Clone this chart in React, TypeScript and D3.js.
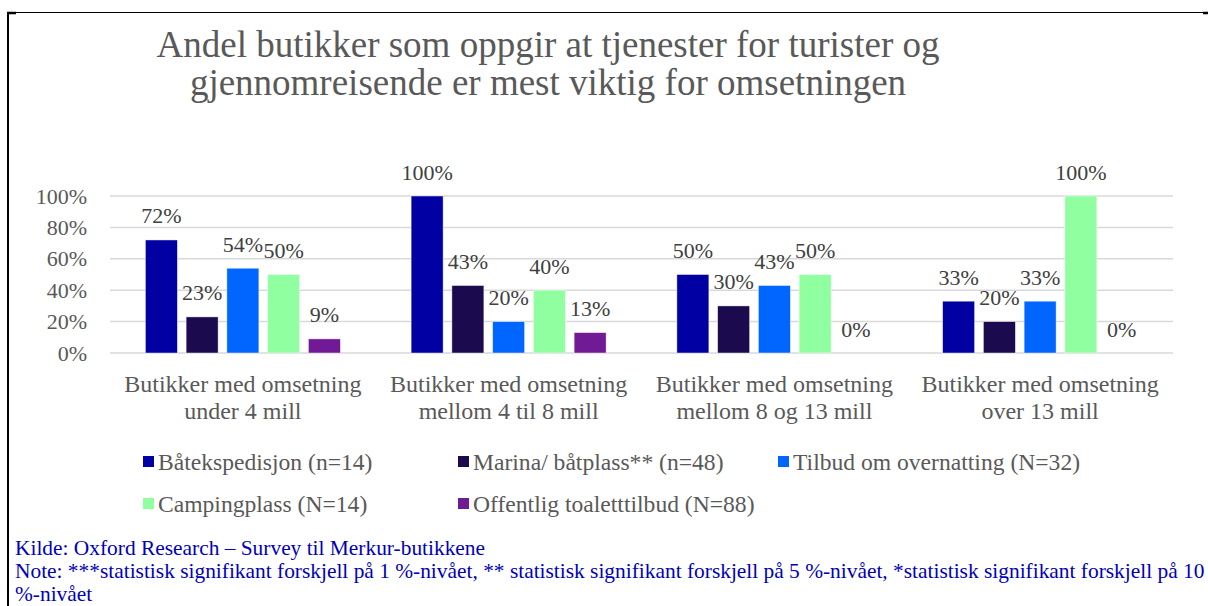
import React from "react";
import * as d3 from "d3";

const titleLines = [
  "Andel butikker som oppgir at tjenester for turister og",
  "gjennomreisende er mest viktig for omsetningen",
];
const categories = [
  ["Butikker med omsetning", "under 4 mill"],
  ["Butikker med omsetning", "mellom 4 til 8 mill"],
  ["Butikker med omsetning", "mellom 8 og 13 mill"],
  ["Butikker med omsetning", "over 13 mill"],
];
const seriesNames = [
  "Båtekspedisjon (n=14)",
  "Marina/ båtplass** (n=48)",
  "Tilbud om overnatting (N=32)",
  "Campingplass (N=14)",
  "Offentlig toaletttilbud (N=88)",
];
const seriesColors = ["#0000A3", "#1C0A4F", "#0066FF", "#90FFA0", "#711A96"];
const batekspedisjon = [0.72, 1.0, 0.5, 0.33];
const marina = [0.23, 0.43, 0.3, 0.2];
const overnatting = [0.54, 0.2, 0.43, 0.33];
const camping = [0.5, 0.4, 0.5, 1.0];
const toalett = [0.09, 0.13, 0, 0];
const seriesValues = [batekspedisjon, marina, overnatting, camping, toalett];
const yTicks = [0, 0.2, 0.4, 0.6, 0.8, 1.0];
const sourceLines = [
  "Kilde: Oxford Research – Survey til Merkur-butikkene",
  "Note: ***statistisk signifikant forskjell på 1 %-nivået, ** statistisk signifikant forskjell på 5 %-nivået, *statistisk signifikant forskjell på 10",
  "%-nivået",
];

const W = 1208;
const H = 606;
const FONT = "'Liberation Serif', 'Times New Roman', serif";

export default function App() {
  const x0 = d3
    .scaleBand<number>()
    .domain(d3.range(categories.length))
    .range([110, 1173])
    .paddingInner(0.2333)
    .paddingOuter(0.11665);
  const x1 = d3
    .scaleBand<number>()
    .domain(d3.range(seriesNames.length))
    .range([0, x0.bandwidth()])
    .paddingInner(0.2147)
    .paddingOuter(0.10735);
  const y = d3.scaleLinear().domain([0, 1]).range([353, 196]);
  const pct = d3.format(".0%");

  const legendPos = [
    { x: 143, y: 462 },
    { x: 458, y: 462 },
    { x: 778, y: 462 },
    { x: 143, y: 504 },
    { x: 458, y: 504 },
  ];

  return (
    <svg
      width={W}
      height={H}
      style={{ position: "absolute", left: 0, top: 0, background: "#fff" }}
      fontFamily={FONT}
    >
      <rect x={0} y={0} width={W} height={H} fill="#fff" />
      {/* frame */}
      <line x1={7} y1={12.5} x2={1203} y2={12.5} stroke="#000" strokeWidth={1.2} />
      <line x1={8} y1={12} x2={8} y2={H} stroke="#000" strokeWidth={2} />
      <line x1={7} y1={13} x2={16} y2={13} stroke="#000" strokeWidth={2.5} />
      <line x1={1203} y1={13} x2={1208} y2={13} stroke="#000" strokeWidth={2.5} />

      {/* title */}
      {titleLines.map((t, i) => (
        <text
          key={i}
          x={548}
          y={57 + i * 38}
          textAnchor="middle"
          fontSize={37}
          fill="#595959"
        >
          {t}
        </text>
      ))}

      {/* gridlines and y ticks */}
      {yTicks.map((t) => (
        <g key={t}>
          <line
            x1={110}
            x2={1173}
            y1={y(t)}
            y2={y(t)}
            stroke="#D9D9D9"
            strokeWidth={1.5}
          />
          <text
            x={87}
            y={y(t) + 7.5}
            textAnchor="end"
            fontSize={22}
            fill="#595959"
          >
            {pct(t)}
          </text>
        </g>
      ))}

      {/* bars */}
      {categories.map((c, ci) => (
        <g key={ci} transform={`translate(${x0(ci)},0)`}>
          {seriesValues.map((vals, si) => {
            const v = vals[ci];
            const bx = x1(si) as number;
            return (
              <g key={si}>
                {v > 0 && (
                  <rect
                    x={bx}
                    y={y(v)}
                    width={x1.bandwidth()}
                    height={y(0) - y(v)}
                    fill={seriesColors[si]}
                    stroke="#ffffff"
                    strokeOpacity={0.6}
                    strokeWidth={0.75}
                  />
                )}
                <text
                  x={bx + x1.bandwidth() / 2}
                  y={y(v) - 16.5}
                  textAnchor="middle"
                  fontSize={22}
                  fill="#404040"
                >
                  {pct(v)}
                </text>
              </g>
            );
          })}
        </g>
      ))}

      {/* category labels */}
      {categories.map((lines, ci) => (
        <text
          key={ci}
          x={(x0(ci) as number) + x0.bandwidth() / 2}
          textAnchor="middle"
          fontSize={24}
          fill="#595959"
        >
          {lines.map((l, li) => (
            <tspan key={li} x={(x0(ci) as number) + x0.bandwidth() / 2} y={392 + li * 27}>
              {l}
            </tspan>
          ))}
        </text>
      ))}

      {/* legend */}
      {seriesNames.map((n, i) => (
        <g key={i}>
          <rect
            x={legendPos[i].x}
            y={legendPos[i].y - 6}
            width={11}
            height={11}
            fill={seriesColors[i]}
          />
          <text
            x={legendPos[i].x + 15}
            y={legendPos[i].y + 8}
            fontSize={23.6}
            fill="#595959"
          >
            {n}
          </text>
        </g>
      ))}

      {/* source */}
      {sourceLines.map((s, i) => (
        <text key={i} x={15} y={555 + i * 23} fontSize={21.4} fill="#0000BB">
          {s}
        </text>
      ))}
    </svg>
  );
}
